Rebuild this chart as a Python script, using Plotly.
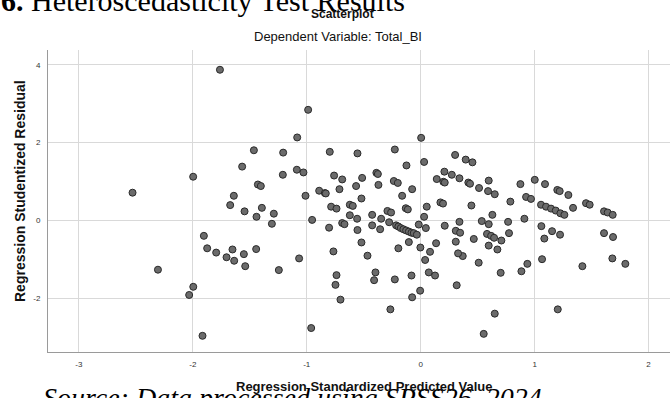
import plotly.graph_objects as go

# Regression Standardized Predicted Value (x) and Regression Studentized Residual (y)
predicted = [
    -1.762, -1.084, -1.464, -1.207, -1.567, -1.087, -1.210, -1.429, -1.403, -1.997, -2.529, -1.640,
    -1.672, -1.546, -1.394, -1.441, -1.289, -1.306, -1.903, -1.874, -1.795, -1.652, -1.704, -1.637,
    -1.552, -1.540, -1.444, -1.245, -1.067, -2.306, -1.996, -2.032, -1.915,
    -0.988, 0.004, -0.798, -0.555, -0.227, -0.125, 0.030, 0.302, 0.395, 0.454, -1.029, -0.760,
    -0.689, -0.514, -0.567, -0.389, -0.376, -0.371, -0.236, -0.201, -0.075, -0.163, -0.520, -0.713,
    -0.891, -0.841, -0.833, -1.011, 0.141, 0.208, 0.199, 0.211, 0.273, 0.340, 0.418, 0.433, 0.512,
    0.597, 0.591, 0.650, 0.875, 1.001, 1.091, 1.199, 1.220, 1.296, 0.925, 0.968,
    0.787, 1.056, 1.100, 1.144, 1.185, 1.226, 1.261, 1.337, 1.451, 1.483, 1.609, 1.641, 1.685,
    0.445, 0.536, 0.597, 0.629, 0.767, 0.910, 0.466, 0.582, 0.618, 0.644, 0.708, 0.775, 0.597,
    0.673, 0.369, 0.509, 0.702, 0.884, 0.936, 1.059, 1.085, 1.153, 1.223, 1.065, 1.419, 1.609,
    1.688, 1.682, 1.796, 0.650, 0.553, 1.203,
    -0.786, -0.739, -0.622, -0.596, -0.622, -0.558, -0.426, -0.347, -0.292, -0.260, -0.131, -0.113,
    0.053, 0.173, 0.196, 0.030, -0.953, -0.689, -0.669, -0.804, -0.555, -0.426, -0.356, -0.277,
    -0.216, -0.196, -0.175, -0.152, -0.128, -0.104, -0.081, -0.061, -0.034,
    -0.017, 0.045, 0.211, 0.340, 0.308, 0.346, -0.520, -0.104, 0.135, 0.308, -0.766, -0.196,
    -0.003, 0.082, 0.328, -0.467, 0.039, -0.739, -0.748, -0.397, -0.409, -0.227, -0.081, 0.071,
    0.126, 0.316, -0.704, -0.005, -0.075, -0.266, -0.961,
]
residual = [
    3.87, 2.13, 1.80, 1.74, 1.38, 1.30, 1.17, 0.92, 0.88, 1.12, 0.71, 0.63,
    0.39, 0.23, 0.32, 0.09, 0.17, -0.09, -0.40, -0.72, -0.83, -0.75, -0.95, -1.04,
    -0.87, -1.18, -0.74, -1.28, -0.98, -1.27, -1.71, -1.92, -2.97,
    2.84, 2.12, 1.76, 1.72, 1.82, 1.41, 1.50, 1.68, 1.56, 1.49, 1.23, 1.15,
    1.05, 1.09, 0.88, 1.22, 1.19, 0.91, 1.01, 0.96, 0.80, 0.63, 0.56, 0.80,
    0.76, 0.70, 0.69, 0.63, 1.06, 1.25, 0.99, 0.97, 1.17, 1.08, 0.97, 0.94, 0.83,
    1.02, 0.75, 0.67, 0.93, 1.04, 0.93, 0.78, 0.75, 0.65, 0.60, 0.55,
    0.48, 0.40, 0.35, 0.30, 0.25, 0.18, 0.14, 0.32, 0.44, 0.40, 0.23, 0.20, 0.14,
    0.38, -0.02, -0.10, 0.14, -0.04, 0.04, -0.48, -0.35, -0.40, -0.45, -0.52, -0.33, -0.65,
    -0.75, -0.92, -1.09, -1.35, -1.31, -1.12, -0.15, -0.47, -0.28, -0.37, -1.00, -1.18, -0.33,
    -0.43, -0.98, -1.12, -2.40, -2.92, -2.29,
    0.35, 0.30, 0.40, 0.37, 0.13, 0.04, 0.14, 0.04, 0.24, 0.20, 0.31, 0.28,
    0.35, 0.46, 0.43, 0.09, 0.01, -0.07, -0.10, -0.19, -0.25, -0.13, -0.23, -0.05,
    -0.13, -0.16, -0.20, -0.23, -0.26, -0.29, -0.32, -0.33, -0.37,
    -0.11, -0.20, -0.14, -0.04, -0.27, -0.32, -0.57, -0.56, -0.59, -0.55, -0.80, -0.72,
    -0.70, -0.81, -0.85, -0.91, -1.02, -1.41, -1.66, -1.34, -1.54, -1.52, -1.42, -1.34,
    -1.42, -1.67, -2.04, -1.81, -1.98, -2.29, -2.77,
]

x_ticks = [-3, -2, -1, 0, 1, 2]
x_tick_labels = ["-3", "-2", "-1", "0", "1", "2"]
y_ticks = [-2, 0, 2, 4]
y_tick_labels = ["-2", "0", "2", "4"]

heading = "<b>6.</b> Heteroscedasticity Test Results"
source_note = "<i>Source: Data processed using SPSS26, 2024</i>"
chart_title = "<b>Scatterplot</b>"
chart_subtitle = "Dependent Variable: Total_BI"
x_title = "<b>Regression Standardized Predicted Value</b>"
y_title = "<b>Regression Studentized Residual</b>"

W, H = 670, 398
L, R, T, B = 48, 0, 50, 46
pw, ph = W - L - R, H - T - B

def px(x):
    return (x - L) / pw

def py(y):
    return (H - B - y) / ph

fig = go.Figure()
fig.add_trace(go.Scatter(
    x=predicted, y=residual, mode="markers",
    marker=dict(size=7, color="#6b6b6b", line=dict(color="#2a2a2a", width=1)),
    hoverinfo="skip", showlegend=False, cliponaxis=False,
))

sans = "Liberation Sans, Arial, sans-serif"
serif = "Liberation Serif, Times New Roman, serif"

fig.update_layout(
    width=W, height=H,
    margin=dict(l=L, r=R, t=T, b=B, pad=0, autoexpand=False),
    paper_bgcolor="white", plot_bgcolor="white",
    xaxis=dict(
        range=[-3.271, 2.188], tickvals=x_ticks, ticktext=x_tick_labels,
        showgrid=True, gridcolor="#d9d9d9", gridwidth=1, automargin=False,
        zeroline=False, showline=True, linecolor="#9a9a9a", linewidth=1,
        ticks="", tickfont=dict(family=sans, size=8, color="#333333"),
        ticklabelstandoff=4,
    ),
    yaxis=dict(
        range=[-3.386, 4.378], tickvals=y_ticks, ticktext=y_tick_labels,
        showgrid=True, gridcolor="#d9d9d9", gridwidth=1, automargin=False,
        zeroline=False, showline=True, linecolor="#9a9a9a", linewidth=1,
        ticks="", tickfont=dict(family=sans, size=8, color="#333333"),
        ticklabelstandoff=5,
    ),
    showlegend=False,
)

ann = [
    dict(text=heading, x=px(-1), y=py(0), xanchor="left", yanchor="middle",
         font=dict(family=serif, size=30, color="black")),
    dict(text=source_note, x=px(41), y=py(397), xanchor="left", yanchor="middle",
         font=dict(family=serif, size=28, color="black")),
    dict(text=chart_title, x=px(342), y=py(14), xanchor="center", yanchor="middle",
         font=dict(family=sans, size=12, color="#111111")),
    dict(text=chart_subtitle, x=px(338), y=py(37), xanchor="center", yanchor="middle",
         font=dict(family=sans, size=13, color="#111111")),
    dict(text=x_title, x=px(364), y=py(386), xanchor="center", yanchor="middle",
         font=dict(family=sans, size=13, color="#111111")),
    dict(text=y_title, x=px(20), y=py(191), xanchor="center", yanchor="middle",
         textangle=-90, font=dict(family=sans, size=14, color="#111111")),
]
for a in ann:
    a.update(xref="paper", yref="paper", showarrow=False)
fig.update_layout(annotations=ann)

fig.write_html(
    "out.html",
    config={"displayModeBar": False, "staticPlot": True},
    post_script="document.body.style.margin='0';document.body.style.padding='0';",
)
